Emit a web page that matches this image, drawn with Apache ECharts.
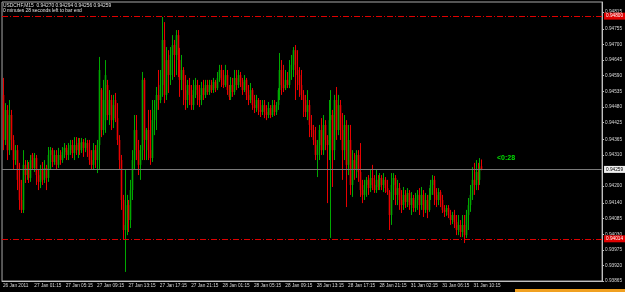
<!DOCTYPE html>
<html>
<head>
<meta charset="utf-8">
<script src="https://cdn.jsdelivr.net/npm/echarts@6.0.0/dist/echarts.min.js"></script>
<style>
html, body { margin: 0; padding: 0; background: #000; }
#chart { width: 625px; height: 292px; }
</style>
</head>
<body>
<div id="chart"></div>
<script>
// USDCHF M15 candles, prices in points (1 = 0.00001), rows are [open, close, low, high]
const bars26Jan = [
  [94522, 94363, 94327, 94582], [94363, 94469, 94345, 94493], [94469, 94327, 94292, 94486],
  [94327, 94451, 94310, 94504], [94451, 94363, 94327, 94469], [94363, 94292, 94257, 94380],
  [94292, 94327, 94275, 94345], [94327, 94222, 94186, 94345], [94222, 94151, 94116, 94282],
  [94151, 94116, 94105, 94222], [94116, 94275, 94105, 94327]
];
const bars27Jan = [
  [94275, 94239, 94211, 94292], [94239, 94264, 94222, 94292], [94264, 94229, 94211, 94285],
  [94229, 94292, 94215, 94310], [94310, 94264, 94257, 94317], [94264, 94299, 94250, 94317],
  [94299, 94239, 94204, 94310], [94239, 94215, 94186, 94257], [94215, 94257, 94193, 94275],
  [94257, 94222, 94204, 94285], [94222, 94264, 94211, 94292], [94264, 94229, 94186, 94275],
  [94229, 94310, 94215, 94338], [94310, 94327, 94257, 94338], [94327, 94285, 94267, 94335],
  [94285, 94310, 94275, 94327], [94310, 94275, 94257, 94327], [94275, 94310, 94264, 94335],
  [94310, 94292, 94275, 94327], [94292, 94320, 94282, 94338], [94320, 94335, 94299, 94352],
  [94335, 94310, 94292, 94345], [94310, 94327, 94292, 94352], [94327, 94345, 94310, 94363],
  [94345, 94317, 94299, 94363], [94317, 94345, 94292, 94373], [94345, 94327, 94310, 94373],
  [94327, 94352, 94299, 94370], [94352, 94327, 94310, 94370], [94327, 94356, 94317, 94370],
  [94356, 94335, 94303, 94366], [94335, 94352, 94320, 94370], [94352, 94327, 94303, 94363],
  [94327, 94292, 94275, 94363], [94292, 94275, 94257, 94327], [94275, 94327, 94257, 94352],
  [94327, 94292, 94264, 94345], [94292, 94345, 94246, 94363], [94345, 94610, 94257, 94656],
  [94539, 94398, 94373, 94546], [94398, 94504, 94380, 94575], [94433, 94592, 94388, 94645],
  [94557, 94451, 94433, 94575], [94451, 94504, 94416, 94539], [94504, 94433, 94398, 94522],
  [94433, 94486, 94405, 94522], [94504, 94440, 94426, 94529], [94440, 94363, 94345, 94493],
  [94363, 94292, 94257, 94380], [94292, 94151, 94116, 94310], [94151, 94045, 94010, 94169],
  [94045, 94063, 93897, 94257], [94063, 94133, 94027, 94169], [94133, 94080, 94038, 94151],
  [94080, 94186, 94052, 94222], [94186, 94292, 94151, 94327], [94292, 94398, 94257, 94451],
  [94398, 94327, 94292, 94451], [94327, 94275, 94239, 94363], [94275, 94327, 94222, 94345],
  [94327, 94575, 94292, 94603], [94575, 94363, 94292, 94582], [94363, 94398, 94292, 94405],
  [94398, 94327, 94292, 94469], [94327, 94299, 94275, 94469], [94299, 94433, 94285, 94504],
  [94433, 94469, 94380, 94504], [94469, 94522, 94398, 94550], [94522, 94504, 94469, 94610],
  [94504, 94557, 94493, 94610], [94557, 94716, 94515, 94797], [94716, 94522, 94493, 94779],
  [94522, 94645, 94504, 94691], [94645, 94592, 94529, 94680], [94592, 94663, 94557, 94691],
  [94663, 94698, 94575, 94733], [94698, 94663, 94585, 94716], [94663, 94733, 94592, 94751],
  [94733, 94645, 94585, 94751], [94645, 94575, 94515, 94688], [94575, 94610, 94539, 94663],
  [94610, 94539, 94486, 94620], [94539, 94504, 94469, 94592], [94504, 94557, 94476, 94575],
  [94557, 94522, 94486, 94582], [94522, 94486, 94469, 94557], [94486, 94539, 94469, 94575],
  [94539, 94557, 94511, 94582], [94557, 94522, 94486, 94575], [94522, 94504, 94479, 94557],
  [94504, 94546, 94486, 94568], [94546, 94522, 94504, 94575], [94522, 94557, 94511, 94575],
  [94557, 94532, 94522, 94575], [94532, 94557, 94522, 94575], [94557, 94539, 94529, 94575]
];
const bars28Jan = [
  [94539, 94568, 94529, 94582], [94568, 94546, 94532, 94575], [94546, 94582, 94539, 94603],
  [94582, 94610, 94568, 94628], [94610, 94575, 94550, 94628], [94575, 94557, 94546, 94610],
  [94557, 94592, 94550, 94628], [94592, 94539, 94522, 94610], [94539, 94515, 94504, 94557],
  [94515, 94557, 94504, 94585], [94557, 94532, 94515, 94582], [94532, 94582, 94522, 94610],
  [94582, 94557, 94539, 94610], [94557, 94592, 94546, 94610], [94592, 94568, 94550, 94603],
  [94568, 94539, 94522, 94582], [94539, 94575, 94532, 94592], [94575, 94522, 94504, 94582],
  [94522, 94504, 94486, 94557], [94504, 94539, 94493, 94564], [94539, 94486, 94469, 94546],
  [94486, 94476, 94458, 94522], [94476, 94504, 94462, 94522], [94504, 94469, 94451, 94511],
  [94469, 94462, 94444, 94504], [94462, 94486, 94451, 94504], [94486, 94462, 94440, 94504],
  [94462, 94451, 94433, 94486], [94451, 94476, 94440, 94497], [94476, 94451, 94440, 94486],
  [94451, 94486, 94444, 94504], [94486, 94462, 94448, 94504], [94462, 94486, 94451, 94497],
  [94486, 94539, 94469, 94546], [94539, 94610, 94504, 94670], [94610, 94557, 94522, 94645],
  [94557, 94546, 94532, 94628], [94546, 94575, 94539, 94610], [94575, 94557, 94546, 94603],
  [94557, 94610, 94546, 94645], [94610, 94628, 94575, 94663], [94628, 94680, 94585, 94691],
  [94680, 94610, 94504, 94698], [94610, 94592, 94539, 94680], [94592, 94557, 94515, 94620],
  [94557, 94522, 94504, 94610], [94522, 94504, 94444, 94539], [94504, 94462, 94444, 94522],
  [94462, 94486, 94433, 94539], [94486, 94416, 94373, 94504], [94416, 94398, 94373, 94451],
  [94398, 94363, 94345, 94416], [94363, 94310, 94292, 94409], [94310, 94345, 94232, 94363],
  [94345, 94398, 94292, 94416], [94398, 94327, 94310, 94440], [94327, 94416, 94310, 94451],
  [94416, 94363, 94327, 94433], [94363, 94345, 94140, 94380], [94345, 94433, 94292, 94504],
  [94433, 94451, 94017, 94539], [94451, 94327, 94197, 94469], [94327, 94504, 94292, 94522],
  [94504, 94398, 94363, 94550], [94398, 94486, 94380, 94522], [94486, 94398, 94363, 94504],
  [94398, 94327, 94222, 94458], [94327, 94416, 94292, 94451], [94416, 94275, 94126, 94433],
  [94275, 94363, 94239, 94416], [94363, 94204, 94169, 94416], [94204, 94292, 94162, 94327],
  [94292, 94257, 94222, 94317], [94257, 94310, 94229, 94327], [94310, 94250, 94215, 94327],
  [94250, 94186, 94162, 94352], [94186, 94169, 94140, 94222], [94169, 94204, 94151, 94222],
  [94204, 94222, 94162, 94232], [94222, 94193, 94169, 94239], [94193, 94229, 94179, 94257],
  [94229, 94204, 94186, 94275], [94204, 94186, 94176, 94239], [94186, 94222, 94176, 94257],
  [94222, 94197, 94186, 94239], [94197, 94229, 94186, 94246], [94229, 94204, 94186, 94239],
  [94204, 94222, 94179, 94246], [94222, 94193, 94176, 94232], [94193, 94179, 94169, 94222],
  [94179, 94098, 94045, 94186], [94098, 94204, 94063, 94246], [94204, 94229, 94151, 94246]
];
const bars31Jan = [
  [94229, 94169, 94133, 94239], [94169, 94193, 94133, 94222], [94193, 94151, 94116, 94211],
  [94151, 94133, 94105, 94186], [94133, 94169, 94116, 94197], [94169, 94144, 94123, 94186],
  [94144, 94176, 94126, 94193], [94176, 94133, 94116, 94186], [94133, 94158, 94098, 94179],
  [94158, 94123, 94109, 94169], [94123, 94151, 94109, 94176], [94151, 94169, 94116, 94186],
  [94169, 94133, 94098, 94193], [94133, 94169, 94116, 94197], [94169, 94116, 94091, 94186],
  [94116, 94151, 94105, 94176], [94151, 94116, 94087, 94169], [94116, 94169, 94109, 94193],
  [94169, 94204, 94151, 94222], [94204, 94222, 94169, 94239], [94222, 94169, 94133, 94236],
  [94169, 94151, 94126, 94193], [94151, 94179, 94133, 94193], [94179, 94151, 94126, 94186],
  [94151, 94116, 94105, 94169], [94116, 94109, 94091, 94133], [94109, 94123, 94095, 94133],
  [94123, 94098, 94087, 94133], [94098, 94080, 94063, 94116], [94080, 94098, 94066, 94109],
  [94098, 94073, 94052, 94116], [94073, 94045, 94027, 94098], [94045, 94063, 94027, 94098],
  [94063, 94038, 94020, 94080], [94038, 94063, 94020, 94098], [94063, 94027, 93999, 94098],
  [94027, 94098, 94017, 94116], [94098, 94133, 94045, 94158], [94133, 94169, 94109, 94204],
  [94169, 94222, 94151, 94267], [94222, 94204, 94169, 94282], [94204, 94250, 94186, 94292],
  [94250, 94222, 94186, 94282], [94222, 94264, 94204, 94299], [94270, 94259, 94256, 94294]
];

const timeLabels = [
  '26 Jan 2011', '27 Jan 01:15', '27 Jan 05:15', '27 Jan 09:15', '27 Jan 13:15', '27 Jan 17:15',
  '27 Jan 21:15', '28 Jan 01:15', '28 Jan 05:15', '28 Jan 09:15', '28 Jan 13:15', '28 Jan 17:15',
  '28 Jan 21:15', '31 Jan 02:15', '31 Jan 06:15', '31 Jan 10:15'
];
const priceTicks = [
  0.94815, 0.94755, 0.94700, 0.94645, 0.94590, 0.94535, 0.94480, 0.94425, 0.94365,
  0.94310, 0.94200, 0.94140, 0.94085, 0.94030, 0.93975, 0.93920, 0.93865
];
const levelHigh = 0.94800;
const levelLow = 0.94014;
const bidPrice = 0.94259;

const barsPerLabel = 16;
const totalSlots = 306; // empty space on the right like the terminal

const bullColor = '#00a800';
const bearColor = '#e80000';

const bars = bars26Jan.concat(bars27Jan, bars28Jan, bars31Jan);
// [slot, open, close, low, high] in price units
const ohlc = bars.map((b, i) => [i].concat(b.map(v => v / 100000)));
const slots = [];
for (let i = 0; i < totalSlots; i++) slots.push(String(i));

const last = bars[bars.length - 1];
const pt = v => (v / 100000).toFixed(5);
// terminal header shows O H L C of the current bar
const header = 'USDCHF,M15  ' + [last[0], last[3], last[2], last[1]].map(pt).join(' ');

const tiny = { fontFamily: 'Liberation Sans', fontSize: 4.7, color: '#d8d8d8' };
const showTick = i => i % barsPerLabel === 0 && i / barsPerLabel < timeLabels.length;

// one candle: 1px wick high->low plus a slightly wider body
function renderCandle(params, api) {
  const slot = api.value(0);
  const open = api.value(1), close = api.value(2);
  const x = api.coord([slot, open])[0];
  const yO = api.coord([slot, open])[1];
  const yC = api.coord([slot, close])[1];
  const yL = api.coord([slot, api.value(3)])[1];
  const yH = api.coord([slot, api.value(4)])[1];
  const px = Math.round(x) + 0.5;
  const color = close >= open ? bullColor : bearColor;
  const top = Math.min(yO, yC);
  return {
    type: 'group',
    children: [
      { type: 'line', shape: { x1: px, y1: yH, x2: px, y2: yL }, style: { stroke: color, lineWidth: 1 } },
      { type: 'rect', shape: { x: px - 0.8, y: top, width: 1.6, height: Math.max(1, Math.abs(yO - yC)) }, style: { fill: color } }
    ]
  };
}

function levelLabel(bg, fg) {
  return Object.assign({}, tiny, {
    position: 'end', distance: 2, color: fg, backgroundColor: bg, padding: [1, 2],
    formatter: p => p.value.toFixed(5)
  });
}

const chart = echarts.init(document.getElementById('chart'));

const option = {
  backgroundColor: '#000',
  animation: false,
  grid: { left: 2, right: 21, top: 2, bottom: 11, show: true, borderColor: '#a8a8a8', borderWidth: 1 },
  xAxis: {
    type: 'category',
    data: slots,
    boundaryGap: true,
    axisLine: { lineStyle: { color: '#c0c0c0' } },
    axisTick: { interval: showTick, length: 2, lineStyle: { color: '#c0c0c0' } },
    axisLabel: Object.assign({
      interval: showTick,
      align: 'left',
      margin: 2,
      formatter: (v, i) => timeLabels[i / barsPerLabel] || ''
    }, tiny),
    splitLine: { show: false }
  },
  yAxis: {
    type: 'value',
    position: 'right',
    min: 0.93865,
    max: 0.94850,
    axisLine: { show: true, lineStyle: { color: '#c0c0c0' } },
    axisTick: { show: true, length: 2, customValues: priceTicks, lineStyle: { color: '#c0c0c0' } },
    axisLabel: Object.assign({
      customValues: priceTicks,
      margin: 3,
      formatter: v => v.toFixed(5)
    }, tiny),
    splitLine: { show: false }
  },
  series: [{
    type: 'custom',
    data: ohlc,
    encode: { x: 0, y: [1, 2, 3, 4] },
    renderItem: renderCandle,
    clip: true,
    silent: true,
    markLine: {
      symbol: 'none',
      silent: true,
      precision: 5,
      data: [
        { yAxis: levelHigh, lineStyle: { color: '#e00000', type: [6, 2, 1, 2], width: 1 }, label: levelLabel('#e00000', '#fff') },
        { yAxis: levelLow, lineStyle: { color: '#e00000', type: [6, 2, 1, 2], width: 1 }, label: levelLabel('#e00000', '#fff') },
        { yAxis: bidPrice, lineStyle: { color: '#7a7a7a', type: 'solid', width: 1 }, label: levelLabel('#f0f0f0', '#000') }
      ]
    }
  }],
  graphic: [
    { type: 'text', left: 3, top: 3, z: 100, style: { text: header, fill: '#e0e0e0', font: '4.9px "Liberation Sans"' } },
    { type: 'text', left: 3, top: 8, z: 100, style: { text: '0 minutes 28 seconds left to bar end', fill: '#e0e0e0', font: '4.9px "Liberation Sans"' } },
    { type: 'text', left: 497, top: 155, z: 100, style: { text: '<0:28', fill: '#00e000', font: 'bold 7px "Liberation Sans"' } },
    { type: 'rect', left: 515, top: 289, z: 100, shape: { width: 110, height: 3 }, style: { fill: '#f0a020' } }
  ]
};

chart.setOption(option);
</script>
</body>
</html>
